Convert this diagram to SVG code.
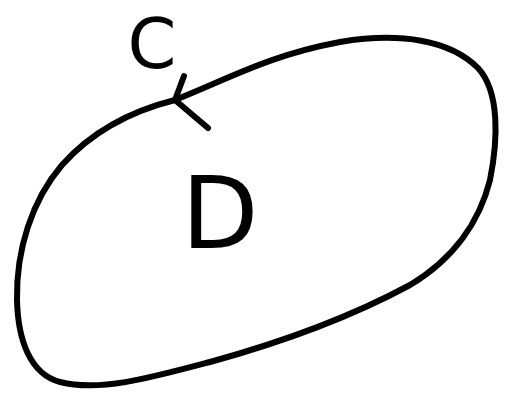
<svg xmlns="http://www.w3.org/2000/svg" width="506" height="396" viewBox="0 0 506 396">
<style>
.s{fill:none;stroke:#000;stroke-width:6;stroke-linecap:round;stroke-linejoin:round}
.t{font-family:"DejaVu Sans",sans-serif;fill:#000;text-anchor:middle}
</style>
<rect width="506" height="396" fill="#fff"/>
<g id="connectors">
<path class="s" d="M175,100 C230,78 270,55 340,42 C400,32 450,40 478,68 C500,92 498,140 490,180 C480,220 455,258 410,285 C360,312 290,340 210,362 C150,378 100,392 60,382 C30,374 18,340 17,300 C16,250 32,200 62,165 C95,128 135,110 175,100"/>
<path class="s" d="M184,76 L175,100 L208,128"/>
</g>
<g id="C"><text class="t" x="152" y="68" font-size="70">C</text></g>
<g id="D"><text class="t" x="220" y="248" font-size="100">D</text></g>
</svg>
